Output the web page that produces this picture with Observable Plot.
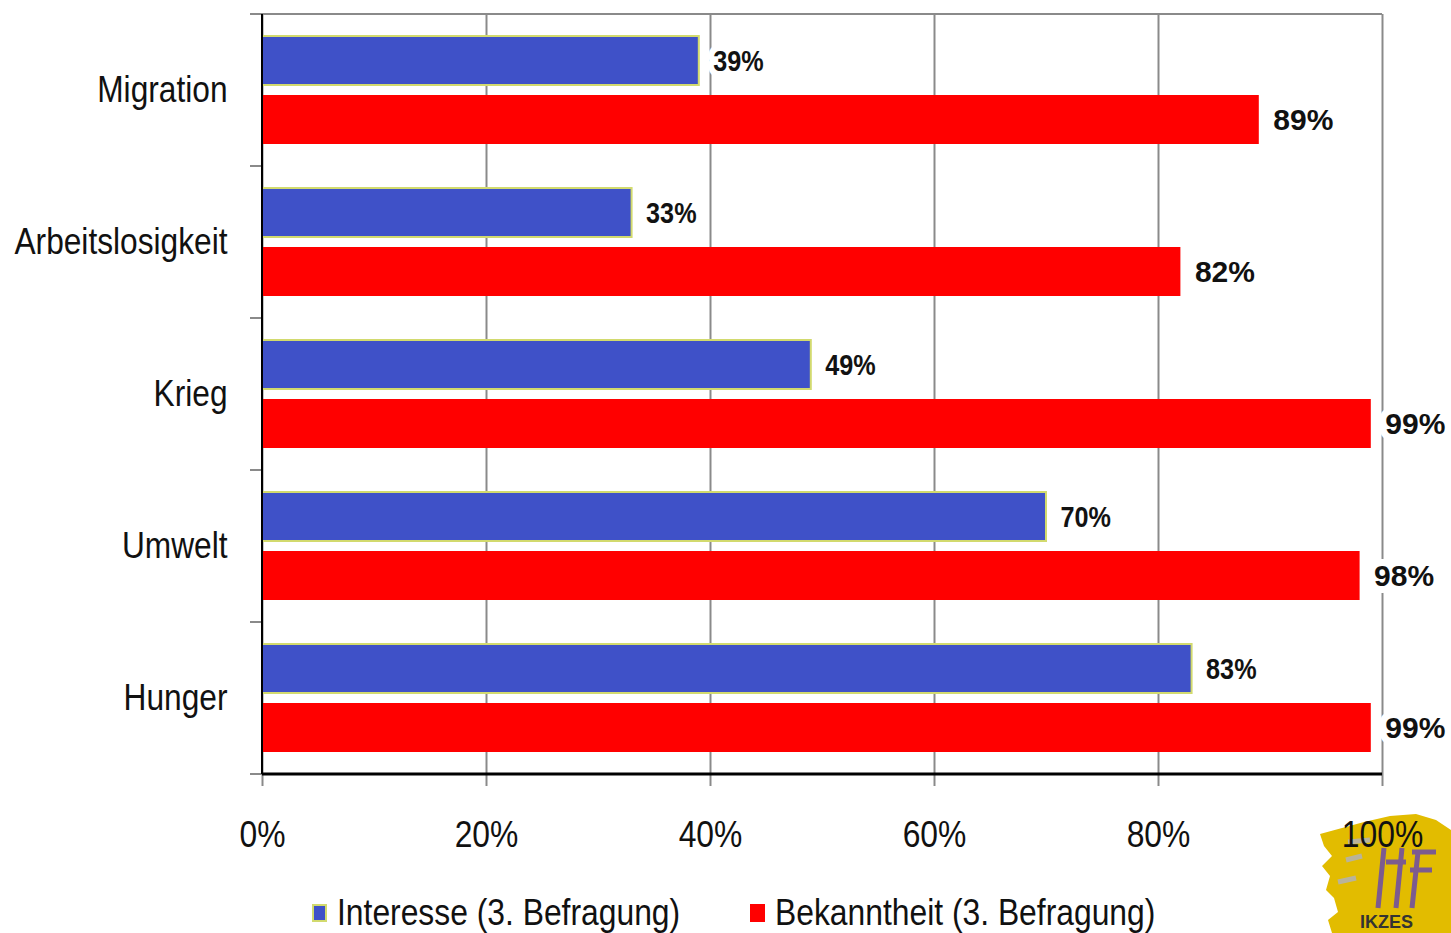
<!DOCTYPE html>
<html>
<head>
<meta charset="utf-8">
<script src="https://cdn.jsdelivr.net/npm/d3@7"></script>
<script src="https://cdn.jsdelivr.net/npm/@observablehq/plot@0.6"></script>
<style>
  html, body { margin: 0; padding: 0; background: #fff; }
  body { width: 1451px; height: 933px; position: relative; overflow: hidden;
         font-family: "Liberation Sans", Arial, sans-serif; }
  #chart { position: absolute; left: 0; top: 0; z-index: 1; }
  #logo { position: absolute; left: 1312px; top: 812px; z-index: 0; }
  #legend { position: absolute; left: 0; top: 893px; width: 1451px; height: 40px; z-index: 2; }
  .item { position: absolute; top: 0; display: flex; align-items: center; font-size: 37px; color: #111; line-height: 40px; white-space: nowrap; }
  .item span { display: inline-block; transform: scaleX(0.86); transform-origin: 0 50%; }
  .sw { width: 15px; height: 18px; margin-right: 10px; box-sizing: border-box; flex: none; }
</style>
</head>
<body>
<svg id="logo" width="139" height="121" viewBox="0 0 139 121">
  <path d="M8 22 L30 16 L52 10 L78 4 L104 2 L124 8 L139 18 L139 121 L20 121 L16 108 L26 100 L22 86 L14 78 L18 64 L10 54 L20 44 L12 34 Z" fill="#E2BC00"/>
  <path d="M36 30 L58 28 M34 48 L50 44 M26 70 L44 66" stroke="#b9b39a" stroke-width="5" fill="none"/>
  <path d="M72 36 L66 96 M90 36 L84 96 M100 40 L124 40 M98 58 L120 58 M106 40 L100 96 M74 50 L94 50" stroke="#6a4aa8" stroke-width="5" fill="none" opacity="0.85"/>
  <text x="48" y="116" font-family="Liberation Sans, Arial, sans-serif" font-weight="bold" font-size="18" fill="#333">IKZES</text>
</svg>
<div id="chart"></div>
<div id="legend"></div>
<script>
// ---- data ----
const categories = ["Migration", "Arbeitslosigkeit", "Krieg", "Umwelt", "Hunger"];
const seriesNames = ["Interesse (3. Befragung)", "Bekanntheit (3. Befragung)"];
const interesse = [39, 33, 49, 70, 83];
const bekanntheit = [89, 82, 99, 98, 99];
const xTicks = [0, 20, 40, 60, 80, 100];
const seriesColors = ["#3F51C8", "#FF0000"];

const rows = categories.flatMap((c, i) => [
  {category: c, series: seriesNames[0], value: interesse[i]},
  {category: c, series: seriesNames[1], value: bekanntheit[i]}
]);
const blueRows = rows.filter(d => d.series === seriesNames[0]);
const redRows = rows.filter(d => d.series === seriesNames[1]);

const font = "'Liberation Sans', Arial, sans-serif";
const blueLabelInk = "#121212";
const redLabelInk = "#111111";

const plot = Plot.plot({
  width: 1451,
  height: 880,
  marginLeft: 262,
  marginRight: 69,
  marginTop: 12,
  marginBottom: 105,
  style: {background: "transparent", fontFamily: font, color: "#111"},
  x: {domain: [0, 100], axis: null},
  y: {domain: seriesNames, paddingInner: 0.17, paddingOuter: 0.373, axis: null},
  fy: {domain: categories, padding: 0, axis: null},
  color: {domain: seriesNames, range: seriesColors},
  marks: [
    Plot.ruleX(xTicks, {stroke: "#8a8a8a", strokeWidth: 2}),
    Plot.barX(blueRows, {x: "value", y: "series", fy: "category", fill: "series", stroke: "#D2DA6E", strokeWidth: 2}),
    Plot.barX(redRows, {x: "value", y: "series", fy: "category", fill: "series"}),
    Plot.text(blueRows, {x: "value", y: "series", fy: "category", text: d => d.value + "%",
      textAnchor: "start", dx: 14, fontSize: 30, fontWeight: "bold",
      fill: blueLabelInk, stroke: "white", strokeWidth: 14, strokeLinejoin: "round"}),
    Plot.text(redRows, {x: "value", y: "series", fy: "category", text: d => d.value + "%",
      textAnchor: "start", dx: 14, fontSize: 30, fontWeight: "bold",
      fill: redLabelInk, stroke: "white", strokeWidth: 14, strokeLinejoin: "round"}),
    Plot.axisFy({anchor: "left", tickSize: 0, tickPadding: 35, fontSize: 36, label: null, fill: "#111"}),
    Plot.axisX(xTicks, {anchor: "bottom", tickFormat: d => d + "%", tickSize: 12, tickPadding: 34,
      fontSize: 37, stroke: "#8a8a8a", strokeWidth: 2, fill: "#111", label: null})
  ]
});
document.getElementById("chart").appendChild(plot);

// horizontally condense texts (the reference uses a narrowed face)
plot.querySelectorAll("text").forEach(t => {
  let f = null;
  const holder = t.closest("[aria-label]");
  const lab = holder ? holder.getAttribute("aria-label") : "";
  const inkEl = t.closest("[fill]");
  const ink = inkEl ? inkEl.getAttribute("fill").toLowerCase() : "";
  if (/fy-axis/.test(lab)) f = 0.88;
  else if (/x-axis/.test(lab)) f = 0.86;
  else if (ink === blueLabelInk) f = 0.84;
  if (f == null) return;
  const w = t.getComputedTextLength();
  if (w > 0) {
    t.setAttribute("textLength", w * f);
    t.setAttribute("lengthAdjust", "spacingAndGlyphs");
  }
});

// frame lines drawn through the plot's own scales
const fy = plot.scale("fy");
const xs = plot.scale("x");
const x0 = xs.apply(0), x100 = xs.apply(100);
const bounds = categories.map(c => fy.apply(c));
const yTop = bounds[0];
const yBottom = fy.apply(categories[categories.length - 1]) + fy.bandwidth;
const g = d3.select(plot).append("g");
bounds.concat([yBottom]).forEach(y => {
  g.append("line").attr("x1", x0 - 12).attr("x2", x0).attr("y1", y).attr("y2", y)
    .attr("stroke", "#8a8a8a").attr("stroke-width", 2);
});
g.append("line").attr("x1", x0).attr("x2", x100).attr("y1", yTop).attr("y2", yTop)
  .attr("stroke", "#8a8a8a").attr("stroke-width", 2);
g.append("line").attr("x1", x0).attr("x2", x100).attr("y1", yBottom).attr("y2", yBottom)
  .attr("stroke", "#000").attr("stroke-width", 3);
g.append("line").attr("x1", x0).attr("x2", x0).attr("y1", yTop).attr("y2", yBottom)
  .attr("stroke", "#000").attr("stroke-width", 2);

// legend
const legend = document.getElementById("legend");
const lefts = [312, 750];
seriesNames.forEach((s, i) => {
  const item = document.createElement("div");
  item.className = "item";
  item.style.left = lefts[i] + "px";
  const sw = document.createElement("div");
  sw.className = "sw";
  sw.style.background = seriesColors[i];
  if (i === 0) sw.style.border = "2px solid #D2DA6E";
  item.appendChild(sw);
  const t = document.createElement("span");
  t.textContent = s;
  item.appendChild(t);
  legend.appendChild(item);
});
</script>
</body>
</html>
